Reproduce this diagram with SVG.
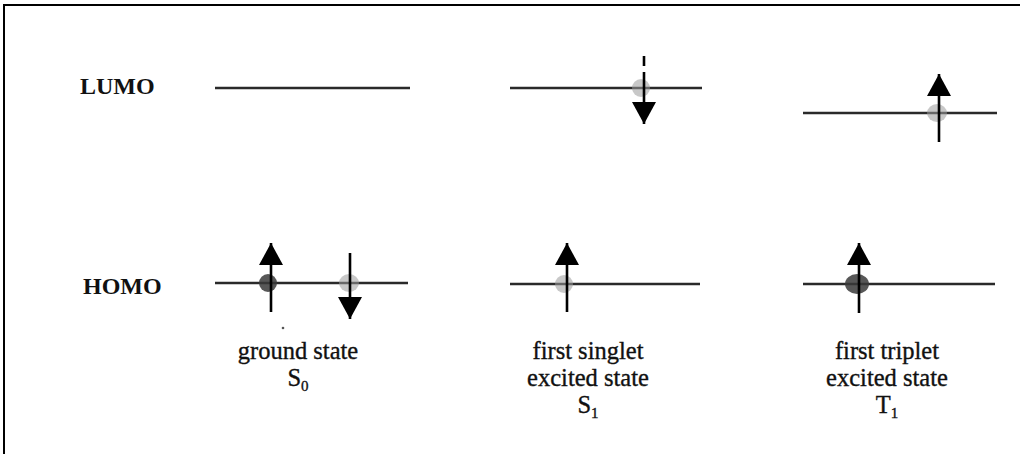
<svg xmlns="http://www.w3.org/2000/svg" width="1020" height="454" viewBox="0 0 1020 454">
<style>
.lvl{stroke:#2a2a2a;stroke-width:2.4;fill:none}
.spin{stroke:#000;stroke-width:2.6;fill:none}
.lbl{font-family:"Liberation Serif","Times New Roman",serif;font-weight:bold;font-size:24px;fill:#111}
.cap{font-family:"Liberation Serif","Times New Roman",serif;font-size:24.5px;fill:#111;stroke:#111;stroke-width:0.35;text-anchor:middle}
.sub{font-size:15px}
.blobL{fill:#9a9a9a;opacity:0.55}
.blobD{fill:#3a3a3a;opacity:0.85}
.frame{stroke:#000;stroke-width:2;fill:none}
</style>
<defs>
<marker id="head" markerUnits="userSpaceOnUse" markerWidth="24" markerHeight="24" refX="22" refY="12" orient="auto">
<path d="M0,0 L22,12 L0,24 Z" fill="#000"/>
</marker>
</defs>
<rect x="0" y="0" width="1020" height="454" fill="#fff"/>
<path class="frame" d="M4,454 V5 H1020"/>

<g id="labels">
<text class="lbl" x="80" y="94">LUMO</text>
<text class="lbl" x="83" y="294">HOMO</text>
</g>

<g id="ground-state">
<line class="lvl" x1="215" y1="88" x2="410" y2="88"/>
<line class="lvl" x1="215" y1="283" x2="408" y2="283"/>
<ellipse class="blobD" cx="268" cy="283" rx="9" ry="9"/>
<ellipse class="blobL" cx="349" cy="283" rx="10" ry="9"/>
<circle cx="283" cy="328" r="1.3" fill="#555"/>
<text class="cap" x="298" y="359">ground state</text>
<text class="cap" x="298" y="386">S<tspan class="sub" dy="5">0</tspan></text>
</g>

<g id="singlet-state">
<line class="lvl" x1="510" y1="88" x2="702" y2="88"/>
<line class="lvl" x1="510" y1="284" x2="700" y2="284"/>
<ellipse class="blobL" cx="641" cy="88" rx="9" ry="9"/>
<ellipse class="blobL" cx="564" cy="284" rx="9" ry="9"/>
<text class="cap" x="588" y="359">first singlet</text>
<text class="cap" x="588" y="386">excited state</text>
<text class="cap" x="588" y="413">S<tspan class="sub" dy="5">1</tspan></text>
</g>

<g id="triplet-state">
<line class="lvl" x1="803" y1="113" x2="997" y2="113"/>
<line class="lvl" x1="803" y1="284" x2="995" y2="284"/>
<ellipse class="blobL" cx="937" cy="113" rx="10" ry="9"/>
<ellipse class="blobD" cx="857" cy="284" rx="12" ry="10"/>
<text class="cap" x="887" y="359">first triplet</text>
<text class="cap" x="887" y="386">excited state</text>
<text class="cap" x="887" y="413">T<tspan class="sub" dy="5">1</tspan></text>
</g>

<g id="spins">
<line class="spin" x1="271" y1="312" x2="271" y2="243" marker-end="url(#head)"/>
<line class="spin" x1="350" y1="253" x2="350" y2="319" marker-end="url(#head)"/>
<line class="spin" x1="644" y1="56" x2="644" y2="66"/>
<line class="spin" x1="644" y1="72" x2="644" y2="124" marker-end="url(#head)"/>
<line class="spin" x1="939" y1="142" x2="939" y2="74" marker-end="url(#head)"/>
<line class="spin" x1="567" y1="312" x2="567" y2="243" marker-end="url(#head)"/>
<line class="spin" x1="859" y1="313" x2="859" y2="243" marker-end="url(#head)"/>
</g>
</svg>
